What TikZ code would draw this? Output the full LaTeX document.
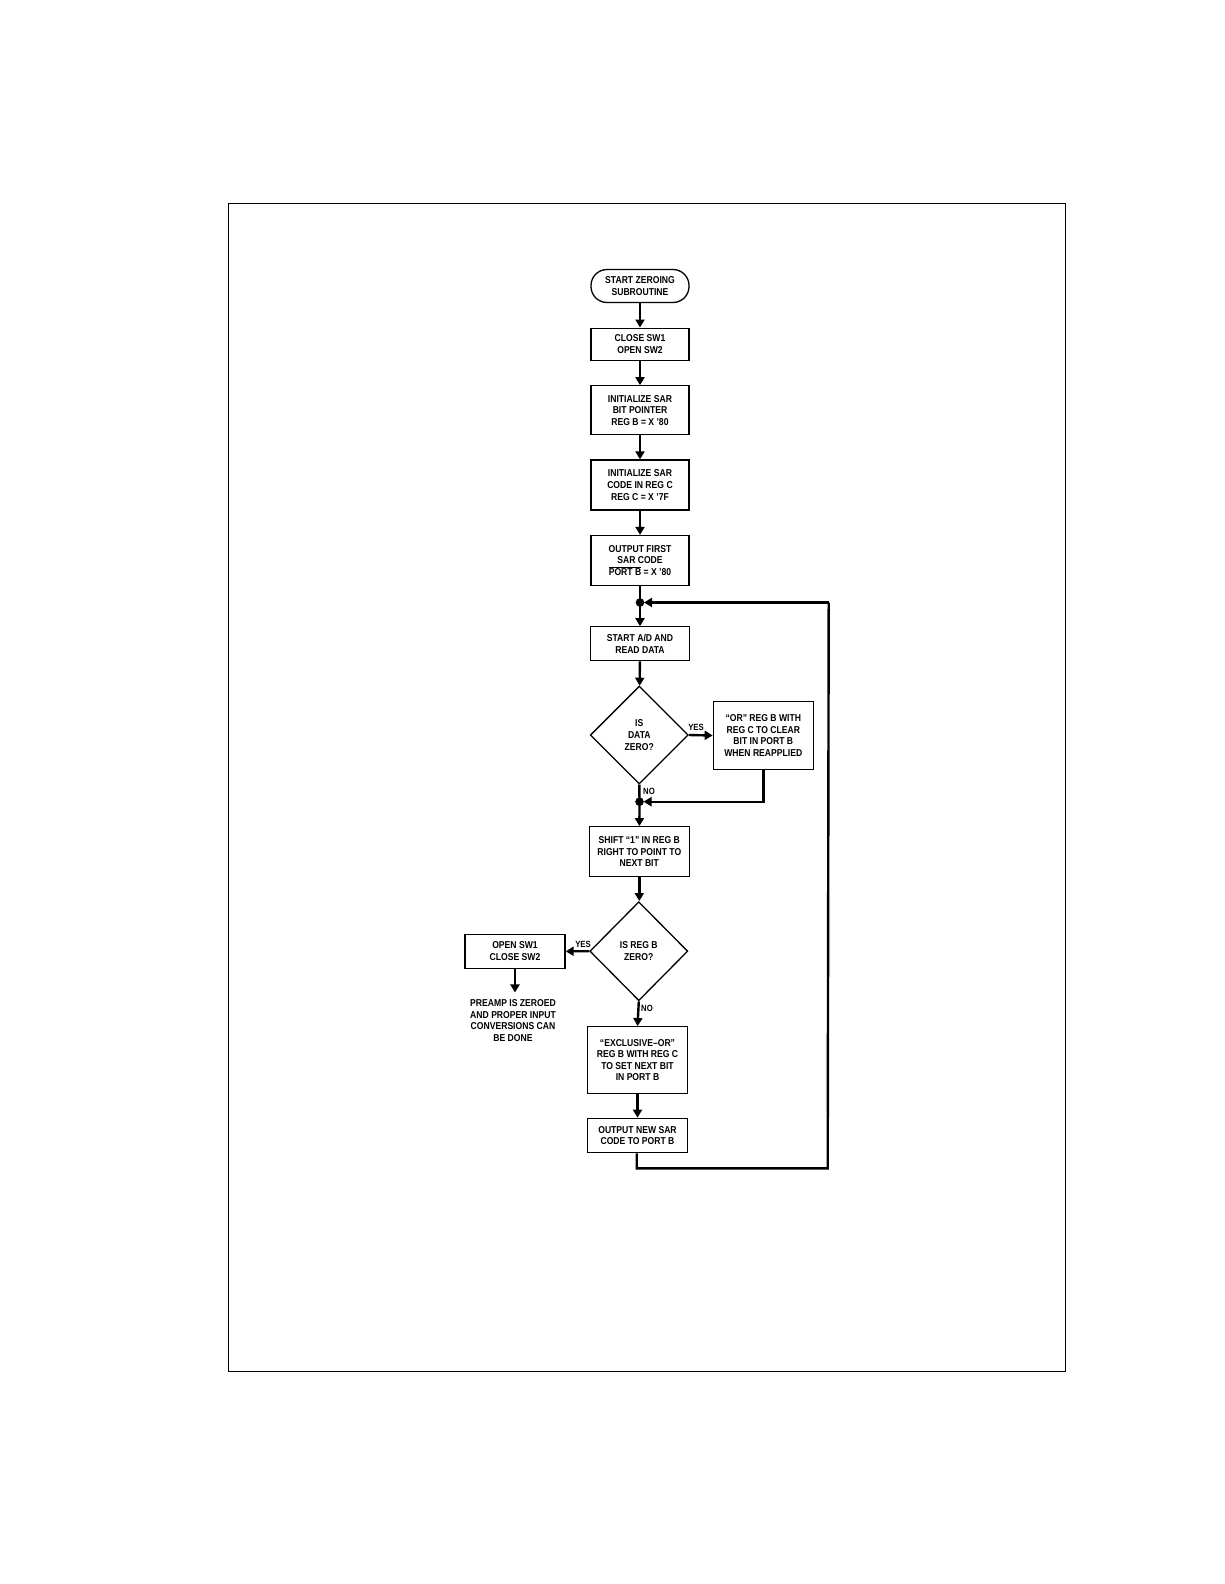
\documentclass[tikz,border=0pt]{standalone}
\usepackage{fontspec}
\setmainfont{Liberation Sans}[FakeStretch=0.86]
\usetikzlibrary{arrows.meta,shapes.geometric,calc}
\begin{document}
\begin{tikzpicture}[x=1pt,y=-1pt,
  txt/.style={font=\bfseries\fontsize{10}{11.6}\selectfont,align=center},
  box/.style={txt,draw,line width=1.3pt,inner sep=0pt},
  conn/.style={line width=2.4pt,-{Triangle[width=9pt,length=8pt]}},
  line/.style={line width=2.4pt},
  lbl/.style={font=\bfseries\fontsize{9}{10}\selectfont,inner sep=0pt}]
\useasboundingbox (0,0) rectangle (1224,1584);
\draw[line width=1pt] (228.3,203.3) rectangle (1065.3,1371.3);
% nodes
\node[box,rounded corners=16pt,minimum width=98pt,minimum height=33pt] (start) at (640,286) {START ZEROING\\SUBROUTINE};
\node[box,minimum width=98pt,minimum height=32pt] (b1) at (640,344.2) {CLOSE SW1\\OPEN SW2};
\node[box,minimum width=98pt,minimum height=49pt] (b2) at (640,410.3) {INITIALIZE SAR\\BIT POINTER\\REG B = X '80};
\node[box,minimum width=98pt,minimum height=50pt] (b3) at (640,485) {INITIALIZE SAR\\CODE IN REG C\\REG C = X '7F};
\node[box,minimum width=98pt,minimum height=50pt] (b4) at (640,560.5) {OUTPUT FIRST\\SAR CODE\\$\overline{\mbox{PORT B}}$ = X '80};
\coordinate (j1) at (640,602.5);
\node[box,minimum width=99pt,minimum height=34pt] (b5) at (640,643.8) {START A/D AND\\READ DATA};
\node[box,diamond,minimum width=98pt,minimum height=98pt] (d1) at (639.3,735) {};
\node[txt] at (d1.center) {IS\\DATA\\ZERO?};
\node[box,minimum width=100pt,minimum height=68pt] (bor) at (763.3,735.5) {``OR'' REG B WITH\\REG C TO CLEAR\\BIT IN PORT B\\WHEN REAPPLIED};
\coordinate (j2) at (639.5,801.7);
\node[box,minimum width=100pt,minimum height=50pt] (b6) at (639.3,851.7) {SHIFT ``1'' IN REG B\\RIGHT TO POINT TO\\NEXT BIT};
\node[box,diamond,minimum width=98pt,minimum height=99pt] (d2) at (638.8,951.2) {};
\node[txt] at (d2.center) {IS REG B\\ZERO?};
\node[box,minimum width=100pt,minimum height=34pt] (bopen) at (515,951.3) {OPEN SW1\\CLOSE SW2};
\node[txt,anchor=north] (pre) at (513,996) {PREAMP IS ZEROED\\AND PROPER INPUT\\CONVERSIONS CAN\\BE DONE};
\node[box,minimum width=99.6pt,minimum height=66.6pt] (b7) at (637.5,1060) {``EXCLUSIVE--OR''\\REG B WITH REG C\\TO SET NEXT BIT\\IN PORT B};
\node[box,minimum width=99.6pt,minimum height=34.4pt] (b8) at (637.5,1135.5) {OUTPUT NEW SAR\\CODE TO PORT B};
\coordinate (c1) at (636.7,1168.3);
\coordinate (c2) at (827.7,1168.3);
\coordinate (c3) at (828.7,602.5);
% connectors
\draw[conn] (start) -- (b1);
\draw[conn] (b1) -- (b2);
\draw[conn] (b2) -- (b3);
\draw[conn] (b3) -- (b4);
\draw[line] (b4.south) -- (j1);
\draw[conn] (j1) -- (b5);
\draw[conn] (b5) -- (d1);
\draw[conn] (d1.east) -- (bor.west);
\draw[line] (d1.south) -- (j2);
\draw[conn,shorten >=4pt] (bor.south) |- (j2);
\draw[conn] (j2) -- (b6);
\draw[conn] (b6.south) -- (b6.south |- d2.north);
\draw[conn] (d2.west) -- (bopen.east);
\draw[conn] (bopen.south) -- ++(0,23.5);
\draw[conn] (d2.south) -- (b7.north);
\draw[conn] (b7) -- (b8);
\draw[line,line join=miter] (b8.south -| c1) -- (c1) -- (c2) -- (c3);
\draw[conn,shorten >=4pt] (c3) -- (j1);
\fill (j1) circle (4.3pt);
\fill (j2) circle (4.3pt);
% labels
\node[lbl] at (696,727) {YES};
\node[lbl] at (649,791) {NO};
\node[lbl] at (583,944) {YES};
\node[lbl] at (647,1008) {NO};
\end{tikzpicture}
\end{document}
